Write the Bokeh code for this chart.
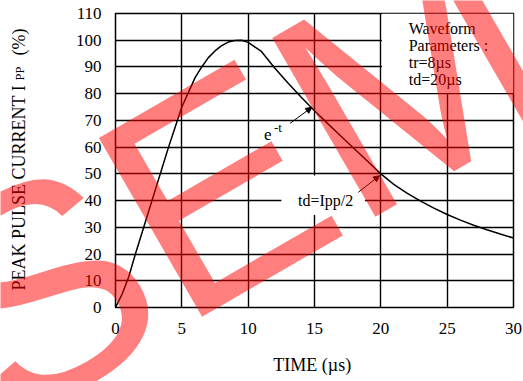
from bokeh.plotting import figure
from bokeh.layouts import column
from bokeh.models import Range1d, Label, Arrow, NormalHead, FixedTicker, GridBox
from bokeh.embed import file_html
from bokeh.resources import INLINE

# ---- data ----
time_us = [0, 0.5, 1, 1.5, 2, 2.5, 3, 3.5, 4, 4.5, 5, 5.5, 6, 6.5, 7, 7.5, 8, 8.5,
           9, 9.5, 10, 11, 12, 13, 14, 15, 16, 17, 18, 19, 20, 21, 22, 23, 24,
           25, 26, 27, 28, 29, 30]
current_pct = [0, 5, 11.5, 20, 28, 36, 44, 52, 60, 67.5, 75, 80.5, 86, 90, 93.5, 96,
               98, 99.3, 99.9, 100, 99.2, 95.8, 89.6, 84, 78.7, 73.6, 68.8, 64.1, 59.4,
               54.7, 50, 46, 42.7, 39.8, 37.2, 34.8, 32.7, 30.8, 29.1, 27.5, 26]
x_ticks = [0, 5, 10, 15, 20, 25, 30]
y_ticks = [0, 10, 20, 30, 40, 50, 60, 70, 80, 90, 100, 110]
legend_lines = ["Waveform", "Parameters :", "tr=8\u00b5s", "td=20\u00b5s"]
y_title_parts = ["PEAK PULSE CURRENT I", "PP", "(%)"]
watermark_text = "SEMI"

SERIF = "Liberation Serif"
W, H = 523, 381

p = figure(width=W, height=H, output_backend="svg", toolbar_location=None,
           x_range=Range1d(0, 30), y_range=Range1d(0, 110),
           min_border_left=115, min_border_right=10, min_border_top=13,
           min_border_bottom=74)
p.background_fill_color = "white"
p.border_fill_color = "white"
p.outline_line_color = "black"
p.outline_line_width = 1.5

# axes
p.xaxis.ticker = FixedTicker(ticks=x_ticks)
p.yaxis.ticker = FixedTicker(ticks=y_ticks)
for ax in (p.xaxis, p.yaxis):
    ax.axis_line_color = None
    ax.major_tick_line_color = None
    ax.minor_tick_line_color = None
    ax.major_tick_in = 0
    ax.major_tick_out = 0
    ax.major_label_text_font = SERIF
    ax.major_label_text_font_size = "17px"
    ax.major_label_text_color = "black"
p.yaxis.major_label_standoff = 14
p.xaxis.major_label_standoff = 15
p.xaxis.axis_label = "TIME  (\u00b5s)"
p.xaxis.axis_label_text_font = SERIF
p.xaxis.axis_label_text_font_size = "18px"
p.xaxis.axis_label_text_font_style = "normal"
p.xaxis.axis_label_text_color = "black"
p.xaxis.axis_label_standoff = 18

# grid
p.xgrid.ticker = FixedTicker(ticks=x_ticks)
p.ygrid.ticker = FixedTicker(ticks=y_ticks)
for g in (p.xgrid, p.ygrid):
    g.grid_line_color = "black"
    g.grid_line_width = 1.4
    g.grid_line_alpha = 1.0

# white masks over the grid (parameter box and label box)
p.quad(left=[20.08, 12.5], right=[30, 18.8], bottom=[80.3, 34.6], top=[110, 49.4],
       fill_color="white", line_color=None)

# curve
p.line(time_us, current_pct, line_color="black", line_width=1.5)

def lab(fig, **kw):
    kw.setdefault("text_baseline", "bottom")
    kw.setdefault("text_align", "left")
    kw.setdefault("text_color", "black")
    fig.add_layout(Label(**kw))

# parameter text
for i, t in enumerate(legend_lines):
    lab(p, x=22.1, y=101.2 - i * 6.4, text=t, text_font=SERIF, text_font_size="16px")

# annotations
lab(p, x=11.2, y=62.5, text="e", text_font=SERIF, text_font_size="17px")
lab(p, x=11.95, y=64.7, text="-t", text_font=SERIF, text_font_size="13px")
p.add_layout(Arrow(end=NormalHead(size=6, fill_color="black", line_color="black"),
                   x_start=13.16, y_start=68.9, x_end=14.8, y_end=74.9,
                   line_color="black", line_width=1))
lab(p, x=13.76, y=36.8, text="td=Ipp/2", text_font=SERIF, text_font_size="16px")
p.add_layout(Arrow(end=NormalHead(size=6, fill_color="black", line_color="black"),
                   x_start=18.3, y_start=43.1, x_end=19.9, y_end=49.3,
                   line_color="black", line_width=1))

# ---- transparent overlay layer in page pixels (y title + watermark) ----
q = figure(width=W, height=H, output_backend="svg", toolbar_location=None,
           x_range=Range1d(0, W), y_range=Range1d(0, H),
           x_axis_type=None, y_axis_type=None,
           min_border=0, min_border_left=0, min_border_right=0,
           min_border_top=0, min_border_bottom=0)
q.background_fill_color = None
q.border_fill_color = None
q.outline_line_color = None
q.grid.visible = False

# y axis title, with subscript
lab(q, x=28, y=H - 290, text=y_title_parts[0], angle=90, angle_units="deg",
    text_font=SERIF, text_font_size="18px")
lab(q, x=26.6, y=H - 80, text=y_title_parts[1], angle=90, angle_units="deg",
    text_font=SERIF, text_font_size="12.5px")
lab(q, x=28, y=H - 55, text=y_title_parts[2], angle=90, angle_units="deg",
    text_font=SERIF, text_font_size="18px")

# watermark
lab(q, x=39, y=H - 484, text=watermark_text, angle=30, angle_units="deg",
    text_font="Liberation Sans", text_font_size="300px",
    text_color="red", text_alpha=0.5, level="overlay")

layout = GridBox(children=[(p, 0, 0), (column(q), 0, 0)])
open("out.html", "w").write(file_html(layout, INLINE))
